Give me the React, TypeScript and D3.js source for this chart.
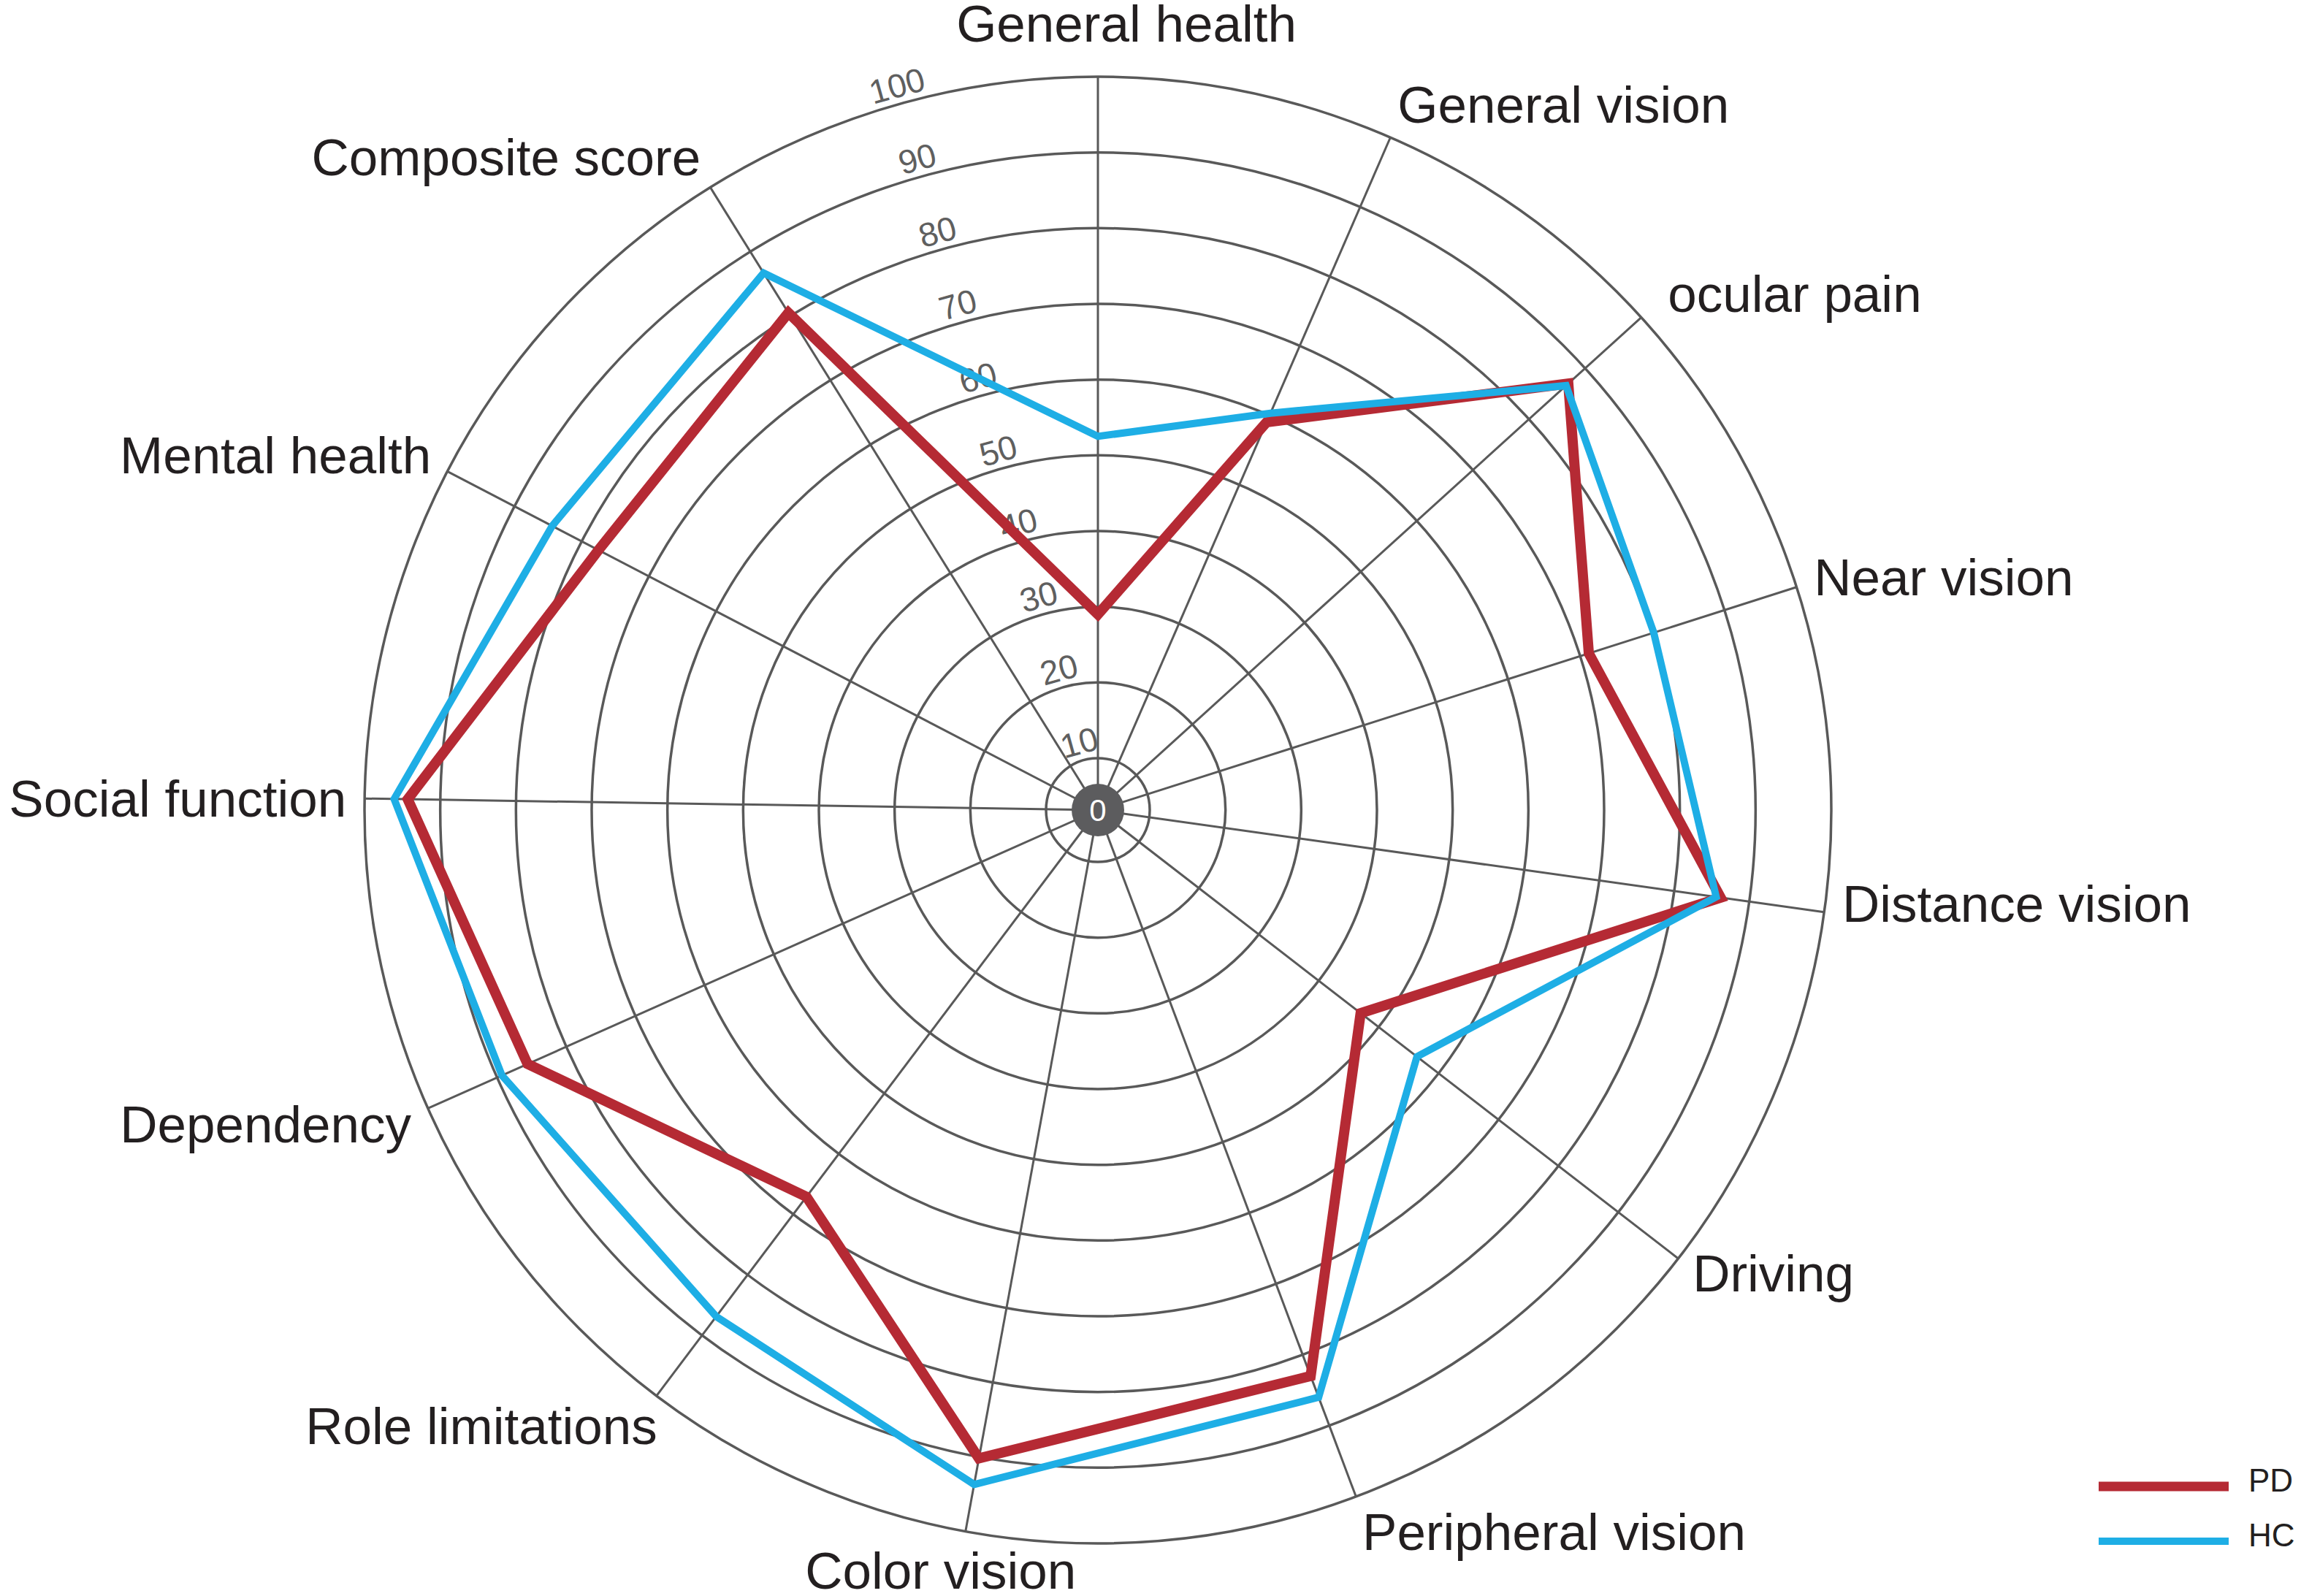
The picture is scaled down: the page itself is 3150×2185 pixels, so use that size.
import React, { useEffect, useRef } from "react";
import * as d3 from "d3";

// axis names, clockwise from the top
const categories = [
  "General health",
  "General vision",
  "ocular pain",
  "Near vision",
  "Distance vision",
  "Driving",
  "Peripheral vision",
  "Color vision",
  "Role limitations",
  "Dependency",
  "Social function",
  "Mental health",
  "Composite score",
];

// axis directions (degrees clockwise from 12 o'clock)
const axisAngles = [0, 23.5, 47.8, 72.3, 98, 127.7, 159.4, 190.4, 217, 246, 270.9, 297.5, 328.1];

const pdValues = [29, 59, 87, 71.2, 86.2, 47, 83, 90.2, 67.1, 85.6, 94.3, 77.5, 80.5];
const hcValues = [52.5, 60.3, 86.6, 80.2, 85.6, 56.4, 86, 93.7, 86.9, 89.3, 96.1, 84.4, 86.7];

const ringTicks = [10, 20, 30, 40, 50, 60, 70, 80, 90, 100];

const seriesNames = ["PD", "HC"];
const seriesColors = ["#b52a34", "#1eaee5"];

// small hand nudges for a few labels [dx, dy]
const labelNudge: [number, number][] = [
  [0, 0], [0, 0], [18, 0], [0, 0], [0, -20], [0, -12], [0, 0],
  [0, 0], [16, 0], [0, 0], [0, 0], [0, 0], [0, 0],
];

const W = 3150;
const H = 2185;

const App: React.FC = () => {
  const svgRef = useRef<SVGSVGElement | null>(null);

  useEffect(() => {
    if (!svgRef.current) return;
    const svg = d3.select(svgRef.current);
    svg.selectAll("*").remove();

    const cx = 1503;
    const cy = 1109;
    const grid = "#595959";
    const font = "'Liberation Sans', Arial, Helvetica, sans-serif";

    const r = d3.scaleLinear().domain([10, 100]).range([71, 1004]);
    const rad = (deg: number) => (deg * Math.PI) / 180;

    const g = svg.append("g").attr("transform", `translate(${cx},${cy})`);

    // rings
    g.selectAll("circle.ring")
      .data(ringTicks)
      .join("circle")
      .attr("class", "ring")
      .attr("r", d => r(d))
      .attr("fill", "none")
      .attr("stroke", grid)
      .attr("stroke-width", 3.5);

    // spokes
    const outer = r(100);
    g.selectAll("line.spoke")
      .data(axisAngles)
      .join("line")
      .attr("class", "spoke")
      .attr("x1", 0)
      .attr("y1", 0)
      .attr("x2", d => outer * Math.sin(rad(d)))
      .attr("y2", d => -outer * Math.cos(rad(d)))
      .attr("stroke", grid)
      .attr("stroke-width", 3);

    // ring values, placed along a slanted line
    const tickAngle = -15.5;
    g.selectAll("text.tick")
      .data(ringTicks)
      .join("text")
      .attr("class", "tick")
      .attr("transform", d => {
        const rr = r(d) + 25;
        const x = rr * Math.sin(rad(tickAngle));
        const y = -rr * Math.cos(rad(tickAngle));
        return `translate(${x},${y}) rotate(${tickAngle})`;
      })
      .attr("text-anchor", "middle")
      .attr("dominant-baseline", "central")
      .attr("fill", "#5f5f5f")
      .style("font-family", font)
      .style("font-size", "46px")
      .text(d => d);

    // category labels
    const labels = g.selectAll("text.cat")
      .data(categories)
      .join("text")
      .attr("class", "cat")
      .attr("fill", "#231f20")
      .style("font-family", font)
      .style("font-size", "71px")
      .text(d => d);

    labels.each(function (_, i) {
      const a = rad(axisAngles[i]);
      const s = Math.sin(a);
      const c = Math.cos(a);
      const ex = outer * s;
      const ey = -outer * c;
      const [nx, ny] = labelNudge[i];
      const t = d3.select(this);
      if (Math.abs(s) < 0.2) {
        t.attr("text-anchor", "middle").attr("x", ex + (c > 0 ? 39 : -34) + nx);
        t.attr("y", (c > 0 ? ey - 48 : ey + 78) + ny);
      } else {
        t.attr("text-anchor", s > 0 ? "start" : "end")
          .attr("x", ex + 25 * s + nx)
          .attr("y", ey - 50 * c + 26 + ny);
      }
    });

    // series
    const radial = d3
      .lineRadial<number>()
      .angle((_, i) => rad(axisAngles[i]))
      .radius(d => r(d))
      .curve(d3.curveLinearClosed);

    [pdValues, hcValues].forEach((vals, k) => {
      g.append("path")
        .datum(vals)
        .attr("d", radial as any)
        .attr("fill", "none")
        .attr("stroke", seriesColors[k])
        .attr("stroke-width", k === 0 ? 14 : 10)
        .attr("stroke-linejoin", "miter")
        .attr("stroke-miterlimit", 10);
    });

    // centre dot
    g.append("circle").attr("r", 36).attr("fill", "#5c5c5e");
    g.append("text")
      .attr("text-anchor", "middle")
      .attr("dominant-baseline", "central")
      .attr("fill", "#ffffff")
      .style("font-family", font)
      .style("font-size", "42px")
      .text("0");

    // legend
    const lg = svg.append("g").attr("transform", "translate(2873,2035)");
    seriesNames.forEach((name, k) => {
      const row = lg.append("g").attr("transform", `translate(0,${k * 75})`);
      row.append("line")
        .attr("x1", 0)
        .attr("x2", 178)
        .attr("y1", 0)
        .attr("y2", 0)
        .attr("stroke", seriesColors[k])
        .attr("stroke-width", k === 0 ? 13 : 10);
      row.append("text")
        .attr("x", 205)
        .attr("y", 7)
        .attr("fill", "#231f20")
        .style("font-family", font)
        .style("font-size", "44px")
        .text(name);
    });
  }, []);

  return (
    <svg
      ref={svgRef}
      width={W}
      height={H}
      style={{ position: "absolute", left: 0, top: 0, background: "#fff", display: "block" }}
    />
  );
};

export default App;
